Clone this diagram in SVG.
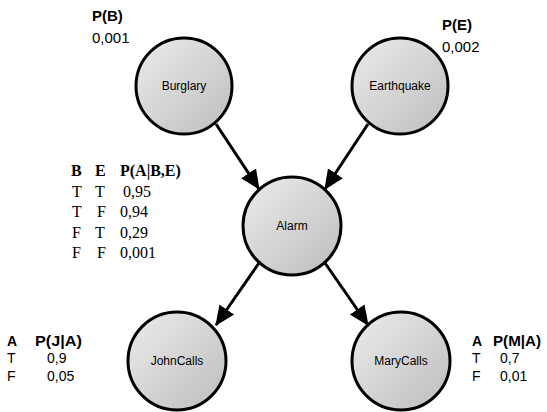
<svg xmlns="http://www.w3.org/2000/svg" width="547" height="412" viewBox="0 0 547 412">
<defs>
<linearGradient id="g" x1="0" y1="0" x2="1" y2="1">
<stop offset="0" stop-color="#ececec"/>
<stop offset="1" stop-color="#bdbdbd"/>
</linearGradient>
<marker id="ah" markerUnits="userSpaceOnUse" markerWidth="20" markerHeight="20" viewBox="0 0 18 16" refX="17" refY="8" orient="auto">
<path d="M0,0 L18,8 L0,16 Z" fill="#000"/>
</marker>
<style>
.node circle{fill:url(#g);stroke:#000;stroke-width:3}
.lbl{font-family:"Liberation Sans",Arial,sans-serif;font-size:12px;text-anchor:middle;fill:#000}
.s{font-family:"Liberation Sans",Arial,sans-serif;font-size:15px;fill:#000}
.t{font-family:"Liberation Sans",Arial,sans-serif;font-size:14px;fill:#000}
.b{font-weight:bold}
.r{font-family:"Liberation Serif","Times New Roman",serif;font-size:16px;fill:#000}
.edge{stroke:#000;stroke-width:3;fill:none;marker-end:url(#ah)}
</style>
</defs>
<rect width="547" height="412" fill="#fff"/>
<g id="connectors">
<line class="edge" x1="216" y1="124" x2="259" y2="189"/>
<line class="edge" x1="368" y1="124" x2="325" y2="189"/>
<line class="edge" x1="259" y1="263" x2="216" y2="325"/>
<line class="edge" x1="325" y1="263" x2="368" y2="325"/>
</g>
<g id="burglary" class="node">
<circle cx="184" cy="86" r="48"/>
<text class="lbl" x="184" y="90">Burglary</text>
</g>
<g id="earthquake" class="node">
<circle cx="400" cy="86" r="48"/>
<text class="lbl" x="400" y="90">Earthquake</text>
</g>
<g id="alarm" class="node">
<circle cx="292" cy="226" r="49"/>
<text class="lbl" x="292" y="230">Alarm</text>
</g>
<g id="johncalls" class="node">
<circle cx="177" cy="361" r="49"/>
<text class="lbl" x="177" y="365">JohnCalls</text>
</g>
<g id="marycalls" class="node">
<circle cx="401" cy="361" r="49"/>
<text class="lbl" x="401" y="365">MaryCalls</text>
</g>
<g id="cpt-b">
<text class="s b" x="92" y="21">P(B)</text>
<text class="s" x="92" y="43">0,001</text>
</g>
<g id="cpt-e">
<text class="s b" x="442" y="30">P(E)</text>
<text class="s" x="442" y="52">0,002</text>
</g>
<g id="cpt-a">
<text class="r b" x="71" y="176">B</text>
<text class="r b" x="95" y="176">E</text>
<text class="r b" x="120" y="176">P(A|B,E)</text>
<text class="r" x="72" y="196.5">T</text><text class="r" x="95" y="196.5">T</text><text class="r" x="123" y="196.5">0,95</text>
<text class="r" x="72" y="217">T</text><text class="r" x="97" y="217">F</text><text class="r" x="120" y="217">0,94</text>
<text class="r" x="72" y="237.5">F</text><text class="r" x="95" y="237.5">T</text><text class="r" x="120" y="237.5">0,29</text>
<text class="r" x="72" y="258">F</text><text class="r" x="97" y="258">F</text><text class="r" x="120" y="258">0,001</text>
</g>
<g id="cpt-j">
<text class="t b" x="7" y="346">A</text>
<text class="t b" x="35" y="346" textLength="47" lengthAdjust="spacingAndGlyphs">P(J|A)</text>
<text class="t" x="7" y="363">T</text><text class="t" x="47" y="363">0,9</text>
<text class="t" x="7" y="381">F</text><text class="t" x="47" y="381">0,05</text>
</g>
<g id="cpt-m">
<text class="t b" x="472" y="346">A</text>
<text class="t b" x="493" y="346" textLength="48" lengthAdjust="spacingAndGlyphs">P(M|A)</text>
<text class="t" x="472" y="363">T</text><text class="t" x="500" y="363">0,7</text>
<text class="t" x="472" y="381">F</text><text class="t" x="500" y="381">0,01</text>
</g>
</svg>
